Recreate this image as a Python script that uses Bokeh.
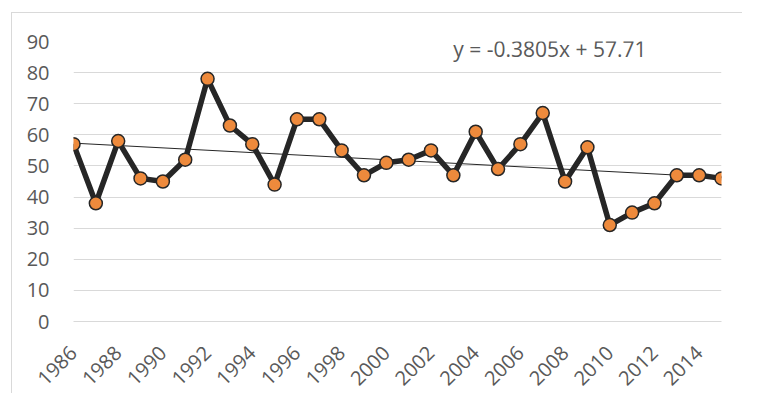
import math
from bokeh.plotting import figure
from bokeh.models import Range1d, FixedTicker, Label
from bokeh.embed import file_html
from bokeh.resources import INLINE

years = list(range(1986, 2016))
values = [57, 38, 58, 46, 45, 52, 78, 63, 57, 44,
          65, 65, 55, 47, 51, 52, 55, 47, 61, 49,
          57, 67, 45, 56, 31, 35, 38, 47, 47, 46]
trend_slope = -0.3805
trend_intercept = 57.71
trend_text = "y = -0.3805x + 57.71"
x_ticks = list(range(1986, 2015, 2))
y_ticks = list(range(0, 91, 10))

FONT = "Open Sans"
TXT = "#595959"

p = figure(width=731, height=381, output_backend="svg", toolbar_location=None,
           x_range=Range1d(1986, 2015), y_range=Range1d(0, 90),
           min_border_left=61, min_border_right=22, min_border_top=28, min_border_bottom=66)
p.styles = {"border-left": "1px solid #d9d9d9", "border-top": "1px solid #d9d9d9",
            "margin-left": "11px", "margin-top": "12px"}
p.outline_line_color = None
p.background_fill_color = "white"

p.xgrid.grid_line_color = None
p.ygrid.grid_line_color = "#d9d9d9"
p.ygrid.grid_line_width = 1

p.yaxis.ticker = FixedTicker(ticks=y_ticks)
p.yaxis.axis_line_color = None
p.yaxis.major_tick_line_color = None
p.yaxis.minor_tick_line_color = None
p.yaxis.major_label_text_font = FONT
p.yaxis.major_label_text_font_size = "20px"
p.yaxis.major_label_text_color = TXT
p.yaxis.major_label_standoff = 18

p.xaxis.ticker = FixedTicker(ticks=x_ticks)
p.xaxis.axis_line_color = "#d9d9d9"
p.xaxis.major_tick_line_color = None
p.xaxis.minor_tick_line_color = None
p.xaxis.major_label_orientation = math.pi / 4
p.xaxis.major_label_text_font = FONT
p.xaxis.major_label_text_font_size = "20px"
p.xaxis.major_label_text_color = TXT
p.xaxis.major_label_standoff = 22

# trendline
idx = list(range(1, len(years) + 1))
trend = [trend_slope * i + trend_intercept for i in idx]
p.line([years[0], years[-1]], [trend[0], trend[-1]], line_color="#262626", line_width=1)

p.line(years, values, line_color="#262626", line_width=5.5, line_join="round")
p.scatter(years, values, size=13, fill_color="#EE8A3C", line_color="#262626", line_width=1.5)

p.add_layout(Label(x=2003.0, y=87.5, text=trend_text, text_font=FONT, text_font_size="21px",
                   text_color=TXT, text_baseline="middle"))

open("out.html", "w").write(file_html(p, INLINE))
